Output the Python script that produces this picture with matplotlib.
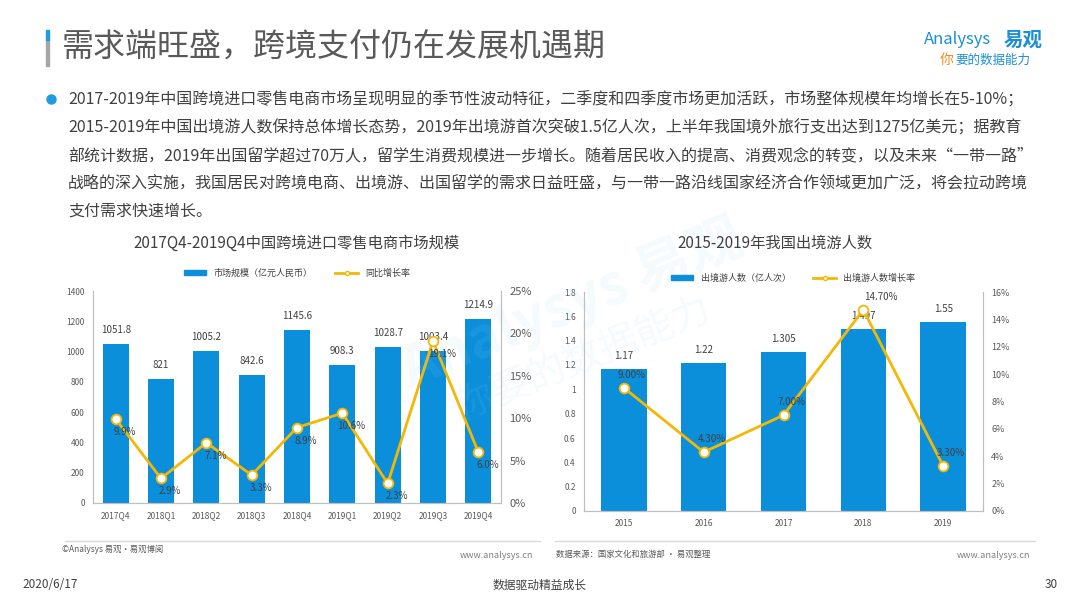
import matplotlib.pyplot as plt
import matplotlib.patches as mpatches
import matplotlib.lines as mlines
import numpy as np

plt.rcParams['font.family'] = ['Noto Sans CJK SC', 'DejaVu Sans']

# Data - left chart
quarters = ['2017Q4', '2018Q1', '2018Q2', '2018Q3', '2018Q4', '2019Q1', '2019Q2', '2019Q3', '2019Q4']
market = [1051.8, 821, 1005.2, 842.6, 1145.6, 908.3, 1028.7, 1003.4, 1214.9]
market_growth = [9.9, 2.9, 7.1, 3.3, 8.9, 10.6, 2.3, 19.1, 6.0]

# Data - right chart
years = ['2015', '2016', '2017', '2018', '2019']
travelers = [1.17, 1.22, 1.305, 1.497, 1.55]
travel_growth = [9.0, 4.3, 7.0, 14.7, 3.3]

BLUE = '#0b8fdb'
YELLOW = '#f3b805'
GRAY = '#595959'
TXT = '#404040'

fig = plt.figure(figsize=(10.8, 6.08), dpi=100)

# Header
fig.add_artist(mpatches.Rectangle((46 / 1080, 1 - 66 / 608), 3 / 1080, 26 / 608,
                                  transform=fig.transFigure, color='#a6a6a6'))
fig.add_artist(mpatches.Rectangle((46 / 1080, 1 - 40 / 608), 3 / 1080, 10 / 608,
                                  transform=fig.transFigure, color='#1e9be2'))
fig.text(62 / 1080, 1 - 47 / 608, '需求端旺盛，跨境支付仍在发展机遇期', fontsize=23,
         color=GRAY, va='center', ha='left')

# Logo
fig.text(924 / 1080, 1 - 40 / 608, 'Analysys', fontsize=12, color='#1a8fd8',
         va='center', ha='left', style='italic')
fig.text(1004 / 1080, 1 - 40 / 608, '易观', fontsize=14, color='#1a8fd8',
         va='center', ha='left', fontweight='bold')
fig.text(940 / 1080, 1 - 60 / 608, '你', fontsize=10, color='#f08a1c',
         va='center', ha='left', style='italic')
fig.text(955 / 1080, 1 - 60 / 608, '要的数据能力', fontsize=9, color='#1a8fd8',
         va='center', ha='left', style='italic')

# Body text
body = [
    '2017-2019年中国跨境进口零售电商市场呈现明显的季节性波动特征，二季度和四季度市场更加活跃，市场整体规模年均增长在5-10%；',
    '2015-2019年中国出境游人数保持总体增长态势，2019年出境游首次突破1.5亿人次，上半年我国境外旅行支出达到1275亿美元；据教育',
    '部统计数据，2019年出国留学超过70万人，留学生消费规模进一步增长。随着居民收入的提高、消费观念的转变，以及未来“一带一路”',
    '战略的深入实施，我国居民对跨境电商、出境游、出国留学的需求日益旺盛，与一带一路沿线国家经济合作领域更加广泛，将会拉动跨境',
    '支付需求快速增长。',
]
fig.add_artist(mlines.Line2D([51 / 1080], [1 - 99 / 608], transform=fig.transFigure,
                             marker='o', ms=6.5, color='#1e9be2', lw=0))
for i, line in enumerate(body):
    fig.text(68 / 1080, 1 - (100 + i * 27.7) / 608, line, fontsize=11.5, color=TXT,
             va='center', ha='left')

# Watermark
fig.text(0.53, 0.50, 'Analysys 易观', fontsize=40, color='#9fd0f0', alpha=0.10,
         rotation=22, ha='center', va='center', fontweight='bold')
fig.text(0.54, 0.41, '你要的数据能力', fontsize=28, color='#9fd0f0', alpha=0.10,
         rotation=22, ha='center', va='center', style='italic')


def style_axes(ax, ax2):
    for sp in ['top']:
        ax.spines[sp].set_visible(False)
        ax2.spines[sp].set_visible(False)
    for sp in ['left', 'bottom', 'right']:
        ax.spines[sp].set_color('#bfbfbf')
        ax2.spines[sp].set_color('#bfbfbf')
    ax.tick_params(length=0, colors='#595959', labelsize=6, pad=6)
    ax2.tick_params(length=0, colors='#595959', labelsize=6.5, pad=6)
    ax.set_facecolor('none')


# Left chart
ax = fig.add_axes([93 / 1080, 1 - 503 / 608, 408 / 1080, 212 / 608])
ax2 = ax.twinx()
x = np.arange(len(quarters))
ax.bar(x, market, width=0.58, color=BLUE, label='市场规模（亿元人民币）', zorder=2)
ax.set_xlim(-0.5, len(quarters) - 0.5)
ax.set_ylim(0, 1400)
ax.set_yticks(np.arange(0, 1401, 200))
ax.set_xticks(x)
ax.set_xticklabels(quarters)
for i, v in enumerate(market):
    ax.annotate(f'{v:g}', (i, v), xytext=(0, 14), textcoords='offset pixels',
                ha='center', va='center', fontsize=7, color='#404040')
ax2.plot(x, market_growth, color=YELLOW, lw=2, marker='o', ms=7, mfc='white',
         mec=YELLOW, mew=1.3, label='同比增长率', zorder=3)
ax2.set_ylim(0, 25)
ax2.set_yticks(np.arange(0, 26, 5))
ax2.set_yticklabels([f'{v}%' for v in range(0, 26, 5)])
for i, v in enumerate(market_growth):
    ax2.annotate(f'{v:.1f}%', (i, v), xytext=(9, -13), textcoords='offset pixels',
                 ha='center', va='center', fontsize=7, color='#404040')
style_axes(ax, ax2)
ax2.tick_params(labelsize=8)
fig.text(296 / 1080, 1 - 243 / 608, '2017Q4-2019Q4中国跨境进口零售电商市场规模',
         fontsize=11, color='#404040', ha='center', va='center')
h1 = mpatches.Patch(color=BLUE, label='市场规模（亿元人民币）')
h2 = mlines.Line2D([], [], color=YELLOW, lw=2, marker='o', ms=3, mfc='white', mec=YELLOW,
                   label='同比增长率')
fig.legend(handles=[h1, h2], loc='center', bbox_to_anchor=(297 / 1080, 1 - 273 / 608),
           ncol=2, frameon=False, fontsize=6.5, handlelength=2.5, handleheight=0.6,
           columnspacing=2.5, labelcolor='#404040')

# Right chart
bx = fig.add_axes([584 / 1080, 1 - 511 / 608, 399 / 1080, 219 / 608])
bx2 = bx.twinx()
xr = np.arange(len(years))
bx.bar(xr, travelers, width=0.57, color=BLUE, zorder=2)
bx.set_xlim(-0.5, len(years) - 0.5)
bx.set_ylim(0, 1.8)
yt = np.round(np.arange(0, 1.81, 0.2), 1)
bx.set_yticks(yt)
bx.set_yticklabels([f'{v:g}' for v in yt])
bx.set_xticks(xr)
bx.set_xticklabels(years)
for i, v in enumerate(travelers):
    bx.annotate(f'{v:g}', (i, v), xytext=(0, 13), textcoords='offset pixels',
                ha='center', va='center', fontsize=7, color='#404040')
bx2.plot(xr, travel_growth, color=YELLOW, lw=2, marker='o', ms=7, mfc='white',
         mec=YELLOW, mew=1.3, zorder=3)
bx2.set_ylim(0, 16)
bx2.set_yticks(np.arange(0, 17, 2))
bx2.set_yticklabels([f'{v}%' for v in range(0, 17, 2)])
for i, v in enumerate(travel_growth):
    dx = 18 if v > 14 else 8
    bx2.annotate(f'{v:.2f}%', (i, v), xytext=(dx, 13), textcoords='offset pixels',
                 ha='center', va='center', fontsize=7, color='#404040')
style_axes(bx, bx2)
fig.text(775 / 1080, 1 - 243 / 608, '2015-2019年我国出境游人数',
         fontsize=11, color='#404040', ha='center', va='center')
g1 = mpatches.Patch(color=BLUE, label='出境游人数（亿人次）')
g2 = mlines.Line2D([], [], color=YELLOW, lw=2, marker='o', ms=3, mfc='white', mec=YELLOW,
                   label='出境游人数增长率')
fig.legend(handles=[g1, g2], loc='center', bbox_to_anchor=(793 / 1080, 1 - 278 / 608),
           ncol=2, frameon=False, fontsize=6.5, handlelength=2.5, handleheight=0.6,
           columnspacing=2.5, labelcolor='#404040')

# Footer
for x0, x1 in [(65, 540), (555, 1035)]:
    fig.add_artist(mlines.Line2D([x0 / 1080, x1 / 1080], [1 - 541 / 608] * 2,
                                 transform=fig.transFigure, color='#d9d9d9', lw=1))
fig.text(62 / 1080, 1 - 549 / 608, '©Analysys 易观·易观博阅', fontsize=6, color='#595959',
         va='center', ha='left')
fig.text(533 / 1080, 1 - 555 / 608, 'www.analysys.cn', fontsize=6.5, color='#7f7f7f',
         va='center', ha='right')
fig.text(556 / 1080, 1 - 554 / 608, '数据来源：国家文化和旅游部 · 易观整理', fontsize=6,
         color='#595959', va='center', ha='left')
fig.text(1030 / 1080, 1 - 555 / 608, 'www.analysys.cn', fontsize=6.5, color='#7f7f7f',
         va='center', ha='right')
fig.text(22 / 1080, 1 - 585 / 608, '2020/6/17', fontsize=8.5, color='#404040',
         va='center', ha='left')
fig.text(540 / 1080, 1 - 585 / 608, '数据驱动精益成长', fontsize=8.5, color='#404040',
         va='center', ha='center')
fig.text(1058 / 1080, 1 - 585 / 608, '30', fontsize=8.5, color='#404040',
         va='center', ha='right')

fig.savefig('out.png', dpi=100)
